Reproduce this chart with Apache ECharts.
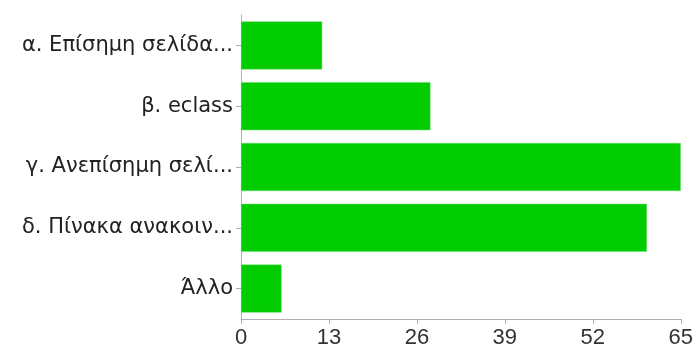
<!DOCTYPE html>
<html>
<head>
<meta charset="utf-8">
<title>bar</title>
<style>
  html, body { margin: 0; padding: 0; background: #fff; }
</style>
</head>
<body>
<div id="main" style="width: 696px;height:349px;"></div>
<script src="https://cdn.jsdelivr.net/npm/echarts@6/dist/echarts.min.js"></script>
<script type="text/javascript">
'use strict'

// categories top to bottom
var categories = ['α. Επίσημη σελίδα...', 'β. eclass', 'γ. Ανεπίσημη σελί...', 'δ. Πίνακα ανακοιν...', 'Άλλο'];
var counts = [12, 28, 65, 60, 6];
var xTicks = [0, 13, 26, 39, 52, 65];

var myChart = echarts.init(document.getElementById('main'));
var option = {
    animation: false,
    textStyle: { fontFamily: 'Liberation Sans, Arial, sans-serif' },
    grid: { left: 241, right: 13, top: 15, bottom: 29, containLabel: false },
    xAxis: {
        type: 'value',
        min: xTicks[0],
        max: xTicks[xTicks.length - 1],
        interval: 13,
        axisLine: { show: true, lineStyle: { color: '#b0b0b0', width: 1 } },
        axisTick: { show: true, length: 5, lineStyle: { color: '#b0b0b0' } },
        axisLabel: { color: '#333', fontSize: 22, margin: 8 },
        splitLine: { show: false }
    },
    yAxis: {
        type: 'category',
        inverse: true,
        data: categories,
        axisLine: { show: true, lineStyle: { color: '#b0b0b0', width: 1 } },
        axisTick: { show: true, length: 5, alignWithLabel: true, lineStyle: { color: '#b0b0b0' } },
        axisLabel: { color: '#222', fontSize: 21, fontFamily: 'DejaVu Sans', margin: 8 }
    },
    series: [{
        type: 'bar',
        data: counts,
        barCategoryGap: '21%',
        itemStyle: { color: '#00cc00', borderColor: '#66dd66', borderWidth: 0.5 }
    }]
};
myChart.setOption(option);
</script>
</body>
</html>
